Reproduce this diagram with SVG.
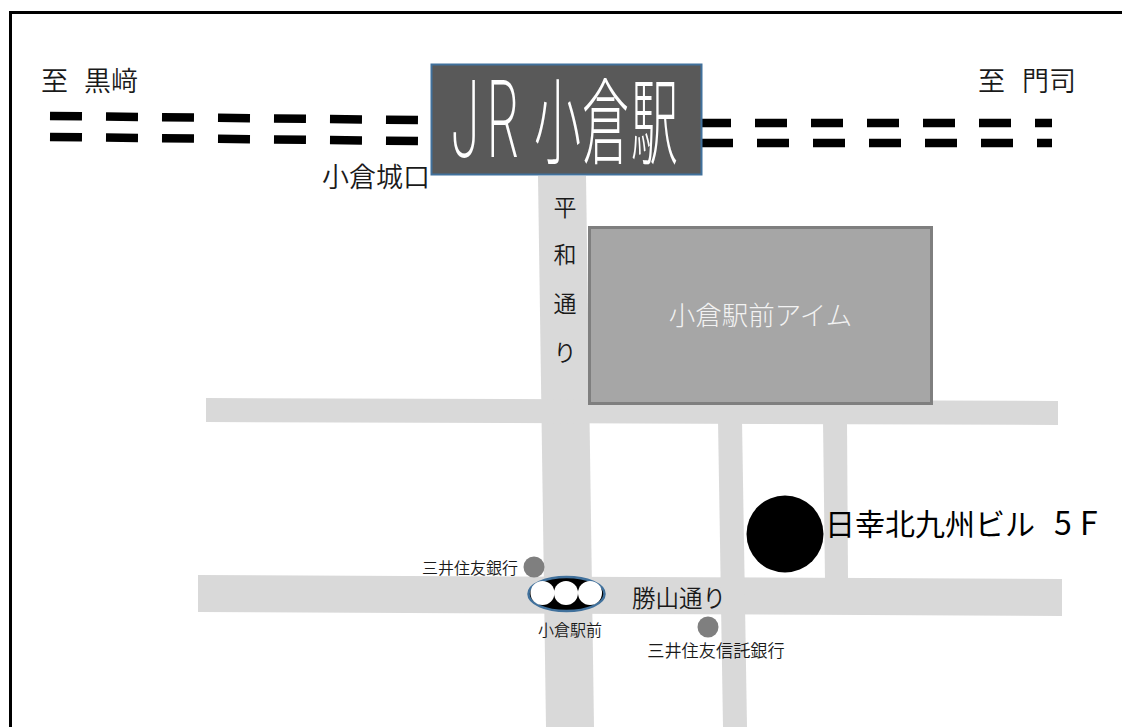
<svg xmlns="http://www.w3.org/2000/svg" width="1122" height="727" viewBox="0 0 1122 727">
<style>
text{font-family:"Noto Sans CJK JP","Noto Sans",sans-serif;fill:#1a1a1a;font-weight:350}
.road{fill:#d9d9d9}
.rail{stroke:#000;stroke-width:8.5;stroke-dasharray:32 24;fill:none}
.bank{fill:#7f7f7f}
.v{font-size:23px;text-anchor:middle}
</style>
<rect width="1122" height="727" fill="#fff"/>
<rect x="10.5" y="12.5" width="1200" height="800" fill="none" stroke="#000" stroke-width="3"/>
<g id="roads">
<polygon class="road" points="538,176 586,176 594,727 546,727"/>
<polygon class="road" points="206,398 1058,401 1058,425 206,422"/>
<polygon class="road" points="198,575 1062,579 1062,616 198,612"/>
<polygon class="road" points="718,420 742,420 747,727 723,727"/>
<polygon class="road" points="823,420 847,420 848,580 825,580"/>
</g>
<g id="connectors">
<line class="rail" x1="50" y1="116" x2="418" y2="120"/>
<line class="rail" x1="50" y1="137" x2="418" y2="141"/>
<line class="rail" x1="699" y1="123" x2="1052" y2="123"/>
<line class="rail" x1="701" y1="143" x2="1052" y2="143"/>
</g>
<g id="station">
<rect x="431.5" y="64.5" width="270" height="110" fill="#595959" stroke="#41719c" stroke-width="2"/>
<text transform="scale(.5,1)" y="157" font-size="94" style="fill:#fff;font-weight:300"><tspan x="900 972" style="font-family:Inter,sans-serif;font-weight:200" font-size="106">JR</tspan><tspan x="1068 1164 1262">小倉駅</tspan></text>
</g>
<g id="building">
<rect x="589.5" y="227.5" width="342" height="176" fill="#a6a6a6" stroke="#7f7f7f" stroke-width="3"/>
<text x="760.5" y="325" font-size="26.5" text-anchor="middle" style="fill:#f2f2f2;font-weight:300">小倉駅前アイム</text>
</g>
<g id="signal">
<ellipse cx="566.5" cy="594" rx="38" ry="17" fill="#000" stroke="#41719c" stroke-width="2.5"/>
<circle cx="542.5" cy="593" r="12" fill="#fff"/>
<circle cx="566" cy="593" r="12" fill="#fff"/>
<circle cx="590" cy="593" r="12" fill="#fff"/>
</g>
<g id="bank1"><circle class="bank" cx="534" cy="567" r="10.5"/><text x="518" y="574" font-size="16" text-anchor="end">三井住友銀行</text></g>
<g id="bank2"><circle class="bank" cx="708" cy="627" r="10.5"/><text x="716" y="657" font-size="17.2" text-anchor="middle">三井住友信託銀行</text></g>
<g id="target"><circle cx="785" cy="534" r="38.5" fill="#000"/><text x="825" y="535" font-size="30" style="fill:#000;font-weight:400">日幸北九州ビル<tspan x="1054 1080" font-size="32">5F</tspan></text></g>
<g id="labels">
<text y="91" font-size="27"><tspan x="41">至</tspan><tspan x="84">黒﨑</tspan></text>
<text y="91" font-size="27"><tspan x="978">至</tspan><tspan x="1022">門司</tspan></text>
<text x="322" y="187" font-size="27">小倉城口</text>
<text x="632" y="607" font-size="23.5">勝山通り</text>
<text x="570" y="636" font-size="16" text-anchor="middle">小倉駅前</text>
<text x="565" y="216" class="v">平</text>
<text x="565" y="263" class="v">和</text>
<text x="565" y="312" class="v">通</text>
<text x="565" y="361" class="v">り</text>
</g>
</svg>
